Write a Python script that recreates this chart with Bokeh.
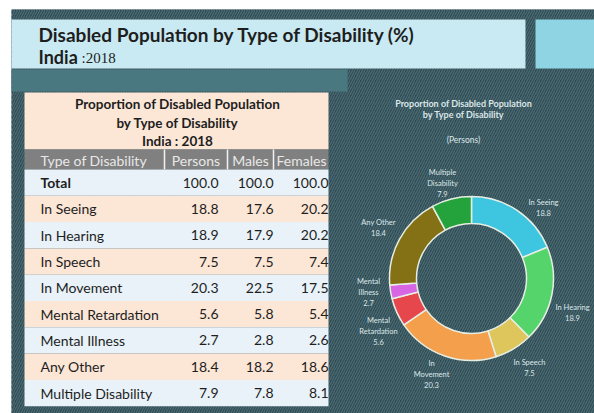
import math
from bokeh.plotting import figure
from bokeh.models import Range1d
from bokeh.core.properties import value
from bokeh.embed import file_html
from bokeh.resources import INLINE

# ---------------- data ----------------
types = ["Total", "In Seeing", "In Hearing", "In Speech", "In Movement",
         "Mental Retardation", "Mental Illness", "Any Other", "Multiple Disability"]
persons = [100.0, 18.8, 18.9, 7.5, 20.3, 5.6, 2.7, 18.4, 7.9]
males = [100.0, 17.6, 17.9, 7.5, 22.5, 5.8, 2.8, 18.2, 7.8]
females = [100.0, 20.2, 20.2, 7.4, 17.5, 5.4, 2.6, 18.6, 8.1]
headers = ["Type of Disability", "Persons", "Males", "Females"]

donut_labels = ["In Seeing", "In Hearing", "In Speech", "In\nMovement",
                "Mental\nRetardation", "Mental\nIllness", "Any Other",
                "Multiple\nDisability"]
donut_values = persons[1:]
donut_colors = ["#3ec5df", "#55d46c", "#dfc65c", "#f39f4c", "#e5474d",
                "#d866e4", "#857115", "#24a23c"]

# ---------------- layout ----------------
W, H = 594, 413
FONT = value("Lato")
BG = "#2d4951"
HATCH = "#4b6a72"

p = figure(width=W, height=H, x_range=Range1d(0, W), y_range=Range1d(0, H),
           output_backend="svg", toolbar_location=None, min_border=0,
           x_axis_type=None, y_axis_type=None,
           background_fill_color="white", border_fill_color="white",
           outline_line_color=None)
p.grid.visible = False


def box(l, r, t, b, color, hatch=False, **kw):
    extra = {}
    if hatch:
        extra = dict(hatch_pattern="/", hatch_color=HATCH, hatch_scale=5,
                     hatch_weight=1.3)
    p.quad(left=[l], right=[r], top=[H - t], bottom=[H - b], fill_color=color,
           line_color=None, **extra, **kw)


def txt(x, y, s, size, color="#1e1e1e", bold=False, align="left", font=FONT):
    p.text(x=[x], y=[H - y], text=[s], text_font=font,
           text_font_size=f"{size}px",
           text_font_style="bold" if bold else "normal",
           text_color=color, text_align=align, text_baseline="middle",
           text_line_height=1.25)


# dark hatched background
box(11, W, 9, H, BG, hatch=True)

# title banner
box(11, 525, 19, 68, "#c9eaf2")
box(535, W, 19, 68, "#8ed4e3")
txt(38, 34, "Disabled Population by Type of Disability (%)", 19, bold=True)
txt(38, 56, "India", 18, bold=True)
txt(81, 57, ":2018", 15, font=value("Liberation Serif"))

# teal band
box(11, 347, 69, 91, "#4a7880")

# ---------------- table ----------------
TL, TR = 24, 328
box(TL, TR, 92, 149, "#fce6d6")
txt(177, 103, "Proportion of Disabled Population", 13.5, bold=True, align="center")
txt(177, 122, "by Type of Disability", 13.5, bold=True, align="center")
txt(177, 140, "India : 2018", 13.5, bold=True, align="center")

box(TL, TR, 149, 169, "#808080")
for xs in (164, 227, 273):
    p.segment(x0=[xs], y0=[H - 149], x1=[xs], y1=[H - 169],
              line_color="#f2f2f2", line_width=1.5)
txt(40, 159.5, headers[0], 14, color="#e8e8e8")
txt(195.5, 159.5, headers[1], 14, color="#e8e8e8", align="center")
txt(250, 159.5, headers[2], 14, color="#e8e8e8", align="center")
txt(301, 159.5, headers[3], 14, color="#e8e8e8", align="center")

row_h = 26.3
row_top = 169
for i, name in enumerate(types):
    t = row_top + i * row_h
    color = "#e8f2f8" if i % 2 == 0 else "#fce6d6"
    box(TL, TR, t, t + row_h, color)
    cy = t + row_h / 2
    txt(40, cy, name, 14, bold=(i == 0))
    txt(218, cy, f"{persons[i]:.1f}", 14, align="right")
    txt(273, cy, f"{males[i]:.1f}", 14, align="right")
    txt(328, cy, f"{females[i]:.1f}", 14, align="right")

# ---------------- donut ----------------
LIGHT = "#dbe6e8"
txt(463, 103, "Proportion of Disabled Population", 9, color=LIGHT, bold=True, align="center")
txt(463, 114, "by Type of Disability", 9, color=LIGHT, bold=True, align="center")
txt(463, 139, "(Persons)", 8.5, color=LIGHT, align="center")

cx, cy = 471, 278
total = sum(donut_values)
starts, ends = [], []
acc = 0.0
for v in donut_values:
    starts.append(math.pi / 2 - 2 * math.pi * acc / total)
    acc += v
    ends.append(math.pi / 2 - 2 * math.pi * acc / total)
p.annular_wedge(x=[cx] * len(donut_values), y=[H - cy] * len(donut_values),
                inner_radius=55, outer_radius=82,
                inner_radius_units="screen", outer_radius_units="screen",
                start_angle=starts, end_angle=ends, direction="clock",
                fill_color=donut_colors, line_color="#e6eee4", line_width=1.5)

label_pos = [(543, 207.5), (572, 312.5), (529, 367.5), (431, 374),
             (378, 331), (368, 292), (378, 227.5), (442, 183)]
for (lx, ly), lab, v in zip(label_pos, donut_labels, donut_values):
    txt(lx, ly, f"{lab}\n{v:.1f}", 7.5, color=LIGHT, align="center")

open("out.html", "w").write(file_html(p, INLINE))
